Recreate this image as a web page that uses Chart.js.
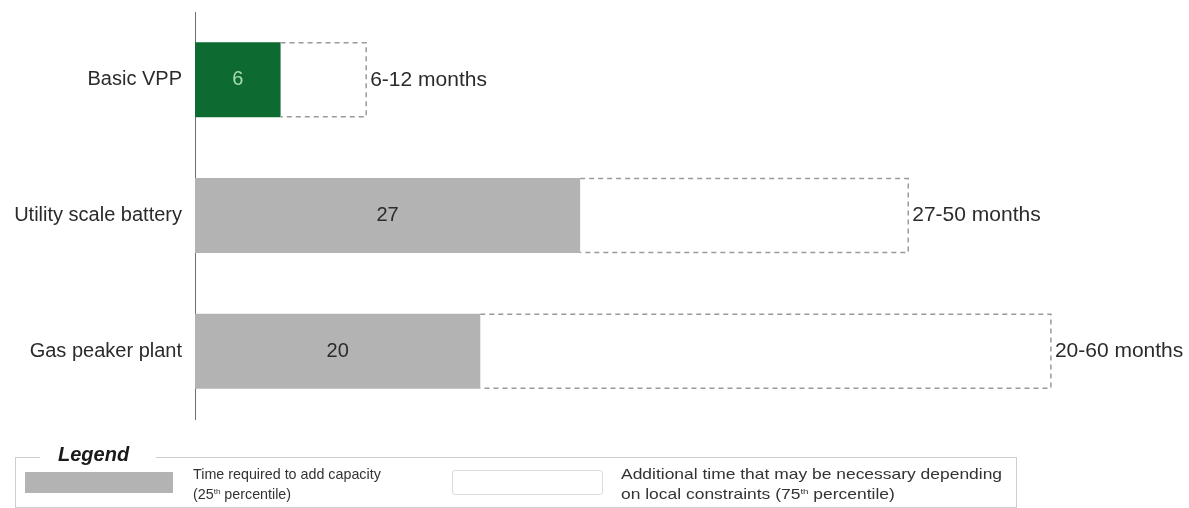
<!DOCTYPE html>
<html>
<head>
<meta charset="utf-8">
<script src="https://cdn.jsdelivr.net/npm/chart.js@4"></script>
<style>
  html, body { margin: 0; padding: 0; background: #fff; }
  #wrap { position: relative; width: 1189px; height: 508px; font-family: "Liberation Sans", Arial, sans-serif; color: #222; }
  #c { position: absolute; left: 0; top: 0; }
  .lg-box { position: absolute; left: 15px; top: 457px; width: 1000px; height: 49px; border: 1px solid #cfcfcf; }
  .lg-title { position: absolute; left: 40px; top: 444px; padding: 0 27px 0 18px; background: #fff; font-weight: bold; font-style: italic; font-size: 20px; line-height: 20px; color: #1a1a1a; }
  .sw1 { position: absolute; left: 25px; top: 472px; width: 148px; height: 21px; background: #b3b3b3; }
  .sw2 { position: absolute; left: 452px; top: 470px; width: 149px; height: 23px; border: 1px solid #dcdcdc; border-radius: 3px; background: #fff; }
  .lt { position: absolute; top: 464px; font-size: 14.3px; line-height: 20px; color: #333; white-space: nowrap; transform-origin: 0 0; }
  .lt sup { font-size: 8px; line-height: 0; vertical-align: 5px; }
  .lt2 { transform: scaleX(1.22); }
</style>
</head>
<body>
<div id="wrap">
  <canvas id="c" width="1189" height="508"></canvas>
  <div class="lg-box"></div>
  <div class="lg-title">Legend</div>
  <div class="sw1"></div>
  <div class="lt" style="left:193px">Time required to add capacity<br>(25<sup>th</sup> percentile)</div>
  <div class="sw2"></div>
  <div class="lt lt2" style="left:621px">Additional time that may be necessary depending<br>on local constraints (75<sup>th</sup> percentile)</div>
</div>
<script>
// ---- data ----
const categories = ["Basic VPP", "Utility scale battery", "Gas peaker plant"];
const lowMonths  = [6, 27, 20];   // 25th percentile
const highMonths = [12, 50, 60];  // 75th percentile
const extraMonths = highMonths.map((h, i) => h - lowMonths[i]);
const rangeLabels = lowMonths.map((l, i) => l + "-" + highMonths[i] + " months");
const baseColors = ["#0d6a31", "#b3b3b3", "#b3b3b3"];
const valueLabelColors = ["#a6dcae", "#2b2b2b", "#2b2b2b"];

const FONT = "'Liberation Sans', Arial, sans-serif";

const overlayPlugin = {
  id: "overlay",
  afterDatasetsDraw(chart) {
    const ctx = chart.ctx;
    const m0 = chart.getDatasetMeta(0);
    const m1 = chart.getDatasetMeta(1);
    ctx.save();
    // dashed outlines for additional time
    m1.data.forEach((bar, i) => {
      const p = bar.getProps(["x", "y", "base", "height"], true);
      const top = p.y - p.height / 2, bot = p.y + p.height / 2;
      ctx.strokeStyle = "#9a9a9a";
      ctx.lineWidth = 1.5;
      ctx.setLineDash([5, 4]);
      ctx.beginPath();
      ctx.moveTo(p.base, top + 0.5);
      ctx.lineTo(p.x, top + 0.5);
      ctx.lineTo(p.x, bot - 0.5);
      ctx.lineTo(p.base, bot - 0.5);
      ctx.stroke();
      ctx.setLineDash([]);
      // range label
      ctx.fillStyle = "#2b2b2b";
      ctx.font = "21px " + FONT;
      ctx.textAlign = "left";
      ctx.textBaseline = "middle";
      ctx.fillText(rangeLabels[i], p.x + 4, p.y);
    });
    // value labels
    m0.data.forEach((bar, i) => {
      const p = bar.getProps(["x", "y", "base"], true);
      ctx.fillStyle = valueLabelColors[i];
      ctx.font = "20px " + FONT;
      ctx.textAlign = "center";
      ctx.textBaseline = "middle";
      ctx.fillText(String(lowMonths[i]), (p.x + p.base) / 2, p.y);
    });
    ctx.restore();
  }
};

new Chart(document.getElementById("c"), {
  type: "bar",
  data: {
    labels: categories,
    datasets: [
      { data: lowMonths, backgroundColor: baseColors, borderWidth: 0 },
      { data: extraMonths, backgroundColor: "rgba(255,255,255,0)", borderWidth: 0 }
    ]
  },
  options: {
    indexAxis: "y",
    responsive: false,
    animation: false,
    devicePixelRatio: 1,
    layout: { padding: { left: 0, right: 24, top: 0, bottom: 89 } },
    datasets: { bar: { barPercentage: 0.553, categoryPercentage: 1 } },
    plugins: { legend: { display: false }, tooltip: { enabled: false } },
    scales: {
      x: { stacked: true, min: 0, max: 68, display: false },
      y: {
        stacked: true,
        grid: { display: false, drawTicks: true, tickLength: 13, tickColor: "rgba(0,0,0,0)" },
        border: { display: true, color: "#6f6f6f", width: 1 },
        ticks: { color: "#2b2b2b", font: { family: FONT, size: 20 }, padding: 0 },
        afterFit(scale) { scale.width = 195; }
      }
    }
  },
  plugins: [overlayPlugin]
});
</script>
</body>
</html>
